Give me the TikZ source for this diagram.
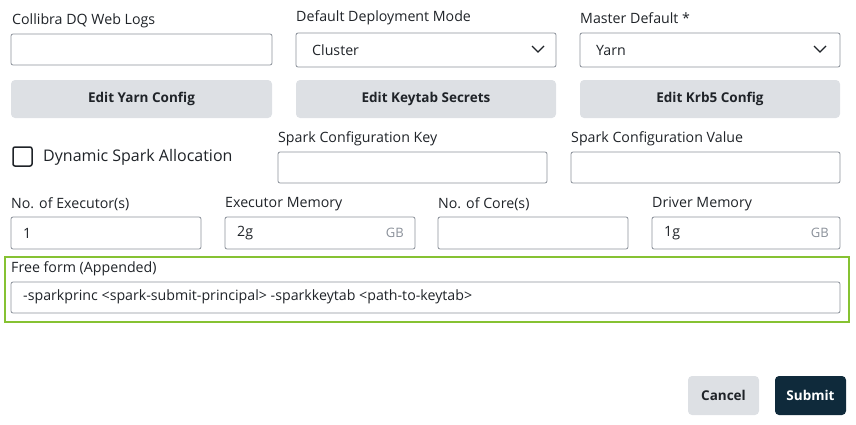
\documentclass[tikz,border=0pt]{standalone}
\usepackage{fontspec}
\setmainfont{Open Sans}
\definecolor{fieldline}{HTML}{8A9099}
\definecolor{btngray}{HTML}{DDE0E4}
\definecolor{okgreen}{HTML}{86C232}
\definecolor{darkbtn}{HTML}{0F2A3B}
\definecolor{txt}{HTML}{1F2328}
\tikzset{
  lbl/.style={anchor=west,inner sep=0pt,text=txt,font=\fontsize{14.2}{16}\selectfont},
  val/.style={anchor=west,inner sep=0pt,text=txt,font=\fontsize{14.2}{16}\selectfont},
  unit/.style={anchor=east,inner sep=0pt,text=fieldline,font=\fontsize{13}{15}\selectfont},
  field/.style={draw=fieldline,line width=0.8pt,rounded corners=2pt},
  btn/.style={fill=btngray,rounded corners=4pt},
  btntext/.style={inner sep=0pt,text=txt,font=\bfseries\fontsize{13.5}{15}\selectfont},
}
\begin{document}
\begin{tikzpicture}[x=1pt,y=-1pt]
\useasboundingbox (0,0) rectangle (856,424);
% row 1
\node[lbl] (weblogs) at (12,21) {Collibra DQ Web Logs};
\draw[field] (11,34) rectangle (272,65);
\node[lbl] (deploy) at (296,18) {Default Deployment Mode};
\draw[field] (296,33) rectangle (556,67);
\node[val] (cluster) at (312,50) {Cluster};
\draw[line width=1.2pt,txt] (532,46) -- (538,52) -- (544,46);
\node[lbl] (master) at (580,18) {Master Default *};
\draw[field] (580,33) rectangle (840,67);
\node[val] (yarn) at (596,50) {Yarn};
\draw[line width=1.2pt,txt] (814,46) -- (820,52) -- (826,46);
% buttons
\fill[btn] (11,80) rectangle (272,118);
\node[btntext] (yarncfg) at (141.5,99) {Edit Yarn Config};
\fill[btn] (296,80) rectangle (556,118);
\node[btntext] (keytab) at (426,99) {Edit Keytab Secrets};
\fill[btn] (580,80) rectangle (840,118);
\node[btntext] (krb5) at (710,99) {Edit Krb5 Config};
% row 3
\draw[line width=1.5pt,txt,rounded corners=2pt] (13,147) rectangle (32,166);
\node[lbl,font=\fontsize{16}{18}\selectfont] (dynamic) at (43,157) {Dynamic Spark Allocation};
\node[lbl] (sparkkey) at (278,139) {Spark Configuration Key};
\draw[field] (278,152) rectangle (547,183);
\node[lbl] (sparkval) at (571,139) {Spark Configuration Value};
\draw[field] (571,152) rectangle (840,183);
% row 4
\node[lbl] (executors) at (11,204) {No. of Executor(s)};
\draw[field] (11,217) rectangle (201,249);
\node[val] (one) at (23,233) {1};
\node[lbl] (exmem) at (225,204) {Executor Memory};
\draw[field] (225,217) rectangle (415,249);
\node[val] (twog) at (237,233) {2g};
\node[unit] (gbone) at (404,233) {GB};
\node[lbl] (cores) at (438,204) {No. of Core(s)};
\draw[field] (438,217) rectangle (628,249);
\node[lbl] (drmem) at (652,204) {Driver Memory};
\draw[field] (652,217) rectangle (840,249);
\node[val] (oneg) at (664,233) {1g};
\node[unit] (gbtwo) at (829,233) {GB};
% free form
\draw[okgreen,line width=2.5pt] (5,257) rectangle (849,322);
\node[lbl] (freeform) at (11,269) {Free form (Appended)};
\draw[field] (11,282) rectangle (840,313);
\node[val] (cmd) at (23,297) {-sparkprinc <spark-submit-principal> -sparkkeytab <path-to-keytab>};
% actions
\fill[btn] (688,376) rectangle (759,415);
\node[btntext] (cancel) at (723.5,395.5) {Cancel};
\fill[darkbtn,rounded corners=4pt] (775,376) rectangle (846,415);
\node[btntext,text=white] (submit) at (810.5,395.5) {Submit};
\end{tikzpicture}
\end{document}
